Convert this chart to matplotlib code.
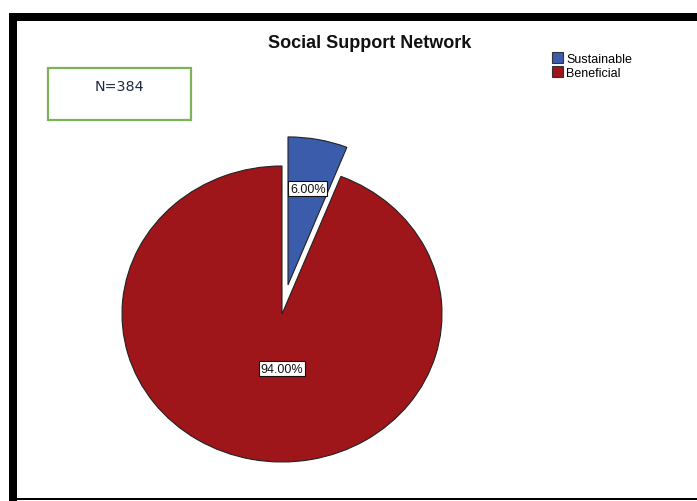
import matplotlib
matplotlib.use("Agg")
import matplotlib.pyplot as plt
from matplotlib.patches import Rectangle

plt.rcParams['font.family'] = ['Liberation Sans', 'DejaVu Sans']

# Data
categories = ["Sustainable", "Beneficial"]
values = [6.00, 94.00]
colors = ["#3b5bab", "#9e151a"]
title = "Social Support Network"
n_label = "N=384"

W, H = 697, 502
fig = plt.figure(figsize=(W / 100, H / 100), dpi=100)

# background axes in pixel coordinates for frame/decoration
bg = fig.add_axes([0, 0, 1, 1])
bg.set_xlim(0, W)
bg.set_ylim(H, 0)
bg.axis("off")
bg.add_patch(Rectangle((9, 14), W - 9, 8, color="black", lw=0))
bg.add_patch(Rectangle((9, 14), 8, H - 14, color="black", lw=0))
bg.add_patch(Rectangle((9, 499), W - 9, 2, color="black", lw=0))
bg.add_patch(Rectangle((47.5, 68.5), 143, 52, fill=False, ec="#7cb35a", lw=1.6))
bg.text(119.5, 87, n_label, ha="center", va="center", fontsize=10.3,
        color="#1e2747", family=["DejaVu Sans"])
bg.text(370, 43, title, ha="center", va="center", fontsize=13,
        fontweight="bold", color="#111111")

# pie axes (slightly elliptical as in the reference)
cx, cy, rx, ry = 282, 315, 160, 148
L = 1.3
ax = fig.add_axes([(cx - L * rx) / W, (H - cy - L * ry) / H,
                   2 * L * rx / W, 2 * L * ry / H])
wedges, texts, autotexts = ax.pie(
    values, colors=colors, startangle=90, counterclock=False,
    explode=[0.2, 0], autopct="%.2f%%", pctdistance=0.66,
    wedgeprops=dict(edgecolor="#222222", linewidth=0.8),
    textprops=dict(fontsize=9, color="#111111"))
ax.set_aspect("auto")
ax.set_xlim(-L, L)
ax.set_ylim(-L, L)
ax.axis("off")
autotexts[1].set_position((0, -0.37))
for t in autotexts:
    t.set_bbox(dict(facecolor="white", edgecolor="#111111", linewidth=0.8,
                    boxstyle="square,pad=0.12"))

leg = fig.legend(wedges, categories, loc="upper left",
                 bbox_to_anchor=(552 / W, 1 - 53 / H), frameon=False,
                 fontsize=9, handlelength=0.85, handleheight=0.95,
                 handletextpad=0.3, labelspacing=0.1, borderpad=0,
                 borderaxespad=0)
for h in leg.legend_handles:
    h.set_edgecolor("#333333")
    h.set_linewidth(0.8)

fig.savefig("out.png", dpi=100)
